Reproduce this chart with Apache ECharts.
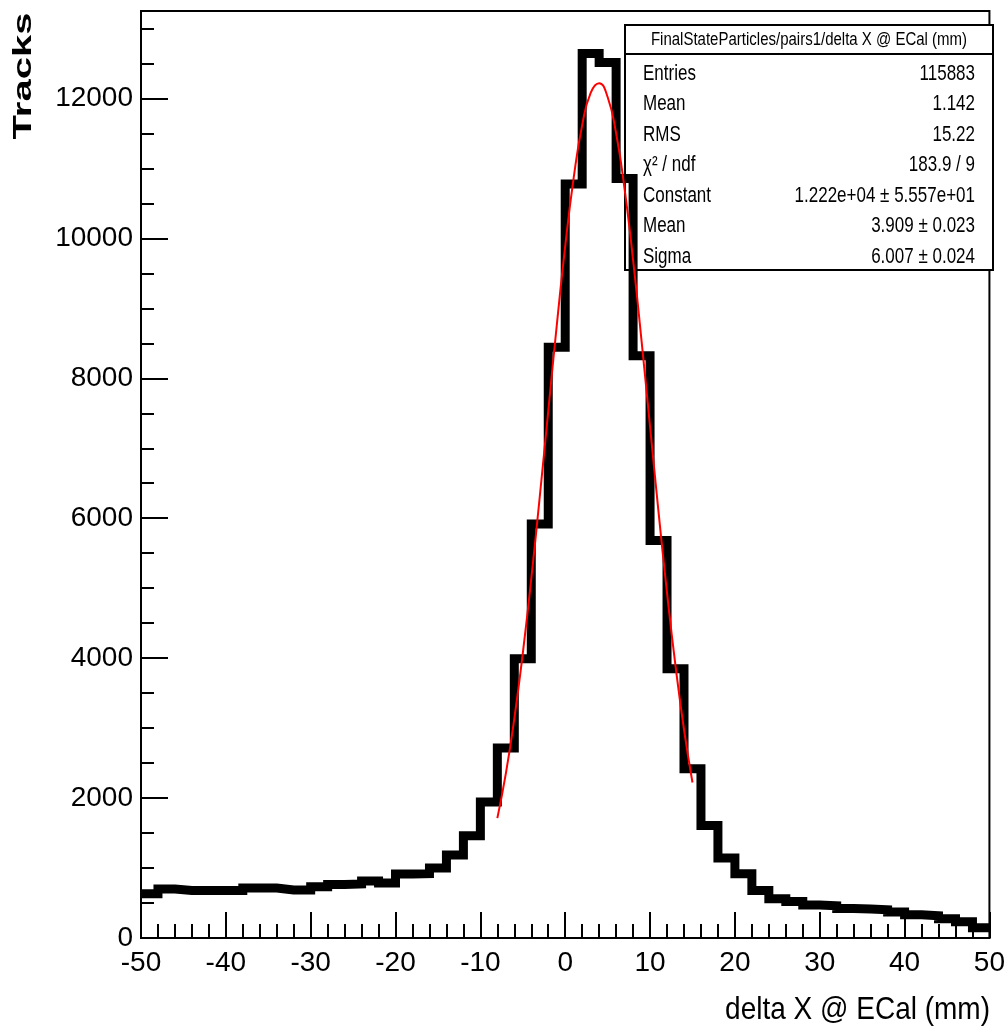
<!DOCTYPE html>
<html>
<head>
<meta charset="utf-8">
<script src="https://cdn.jsdelivr.net/npm/echarts@6/dist/echarts.min.js"></script>
<style>
  html, body { margin: 0; padding: 0; background: #fff; }
  #chart { width: 1008px; height: 1032px; }
</style>
</head>
<body>
<div id="chart"></div>
<script>
// histogram: 50 bins of 2 mm from -50 to 50, contents
const binLow = -50;
const binWidth = 2;
const counts = [
  633, 700, 680, 680, 680, 680, 714, 714, 686, 686,
  733, 765, 773, 816, 786, 916, 920, 1000, 1186, 1461,
  1943, 2714, 3990, 5919, 8443, 10776, 12643, 12514, 10857, 8323,
  5680, 3847, 2419, 1609, 1143, 919, 680, 561, 523, 471,
  461, 423, 414, 404, 371, 333, 319, 276, 233, 147
];

// red gaussian fit curve
const fitX = [-8, -7, -6, -5, -4, -3, -2, -1, 0, 1, 2, 3, 4, 5, 6, 7, 8, 9, 10, 11, 12, 13, 14, 15];
const fitY = [1713, 2349, 3134, 4068, 5136, 6307, 7532, 8751, 9889, 10867, 11619, 12081, 12219, 12020,
              11502, 10705, 9690, 8533, 7309, 6088, 4933, 3889, 2980, 2223];

const xTickLabels = [-50, -40, -30, -20, -10, 0, 10, 20, 30, 40, 50];
const yTickLabels = [0, 2000, 4000, 6000, 8000, 10000, 12000];

// stats box
const statsTitle = 'FinalStateParticles/pairs1/delta X @ ECal (mm)';
const statNames = ['Entries', 'Mean', 'RMS', 'χ² / ndf', 'Constant', 'Mean', 'Sigma'];
const statValues = ['115883', '1.142', '15.22', '183.9 / 9', '1.222e+04 ± 5.557e+01', '3.909 ± 0.023', '6.007 ± 0.024'];

const FONT = '"Liberation Sans", Arial, Helvetica, sans-serif';

const chart = echarts.init(document.getElementById('chart'));

// step line needs the bin edges; repeat the last bin at the upper edge
const histData = counts.map((c, i) => [binLow + i * binWidth, c]);
histData.push([binLow + counts.length * binWidth, counts[counts.length - 1]]);
const fitData = fitX.map((x, i) => [x, fitY[i]]);

const statsRows = [];
statNames.forEach((name, i) => {
  const y = 74 + i * 30.5;
  statsRows.push({
    type: 'text', x: 643, y: y, scaleY: 1.25,
    style: { text: name, font: '17px ' + FONT, fill: '#000', align: 'left', verticalAlign: 'middle' }
  });
  statsRows.push({
    type: 'text', x: 975, y: y, scaleY: 1.25,
    style: { text: statValues[i], font: '17px ' + FONT, fill: '#000', align: 'right', verticalAlign: 'middle' }
  });
});

const option = {
  animation: false,
  backgroundColor: '#fff',
  grid: {
    left: 141, right: 18, top: 11, bottom: 94,
    show: true, borderColor: '#000', borderWidth: 2, backgroundColor: 'transparent'
  },
  xAxis: {
    type: 'value',
    min: -50, max: 50, interval: 10,
    axisLine: { show: true, onZero: false, lineStyle: { color: '#000', width: 2 } },
    axisTick: { show: true, inside: true, length: 26, lineStyle: { color: '#000', width: 2 } },
    minorTick: { show: true, splitNumber: 5, length: 14, lineStyle: { color: '#000', width: 2 } },
    splitLine: { show: false },
    axisLabel: {
      color: '#000', fontSize: 28, fontFamily: FONT, margin: 11,
      formatter: v => (xTickLabels.includes(v) ? String(v) : '')
    }
  },
  yAxis: [
    {
      type: 'value',
      min: 0, max: 13250, interval: 2000,
      axisLine: { show: true, onZero: false, lineStyle: { color: '#000', width: 2 } },
      axisTick: { show: true, inside: true, length: 27, lineStyle: { color: '#000', width: 2 } },
      splitLine: { show: false },
      axisLabel: {
        color: '#000', fontSize: 28, fontFamily: FONT, margin: 8, showMaxLabel: false,
        formatter: v => (yTickLabels.includes(v) ? String(v) : '')
      }
    },
    {
      // minor ticks every 500
      type: 'value', position: 'left',
      min: 0, max: 13250, interval: 500,
      axisLine: { show: false, onZero: false },
      axisTick: { show: true, inside: true, length: 13, lineStyle: { color: '#000', width: 2 } },
      axisLabel: { show: false },
      splitLine: { show: false }
    }
  ],
  series: [
    {
      name: 'histogram',
      type: 'line',
      step: 'end',
      data: histData,
      symbol: 'none',
      lineStyle: { color: '#000', width: 9, join: 'miter', cap: 'butt' },
      z: 3
    },
    {
      name: 'fit',
      type: 'line',
      data: fitData,
      smooth: true,
      symbol: 'none',
      lineStyle: { color: '#ff0000', width: 2 },
      z: 4
    }
  ],
  graphic: [
    {
      type: 'text', x: 24, y: 76, rotation: Math.PI / 2, scaleX: 1.6,
      style: { text: 'Tracks', font: 'bold 25px ' + FONT, fill: '#000', align: 'center', verticalAlign: 'middle' }
    },
    {
      type: 'text', x: 990, y: 1010, scaleY: 1.15,
      style: { text: 'delta X @ ECal (mm)', font: '28px ' + FONT, fill: '#000', align: 'right', verticalAlign: 'middle' }
    },
    {
      type: 'group', z: 100,
      children: [
        { type: 'rect', shape: { x: 625, y: 25, width: 368, height: 245 }, style: { fill: '#fff', stroke: '#000', lineWidth: 2 } },
        { type: 'line', shape: { x1: 625, y1: 54, x2: 993, y2: 54 }, style: { stroke: '#000', lineWidth: 2 } },
        {
          type: 'text', x: 809, y: 40, scaleY: 1.25,
          style: { text: statsTitle, font: '15px ' + FONT, fill: '#000', align: 'center', verticalAlign: 'middle' }
        }
      ].concat(statsRows)
    }
  ]
};

chart.setOption(option);
</script>
</body>
</html>
